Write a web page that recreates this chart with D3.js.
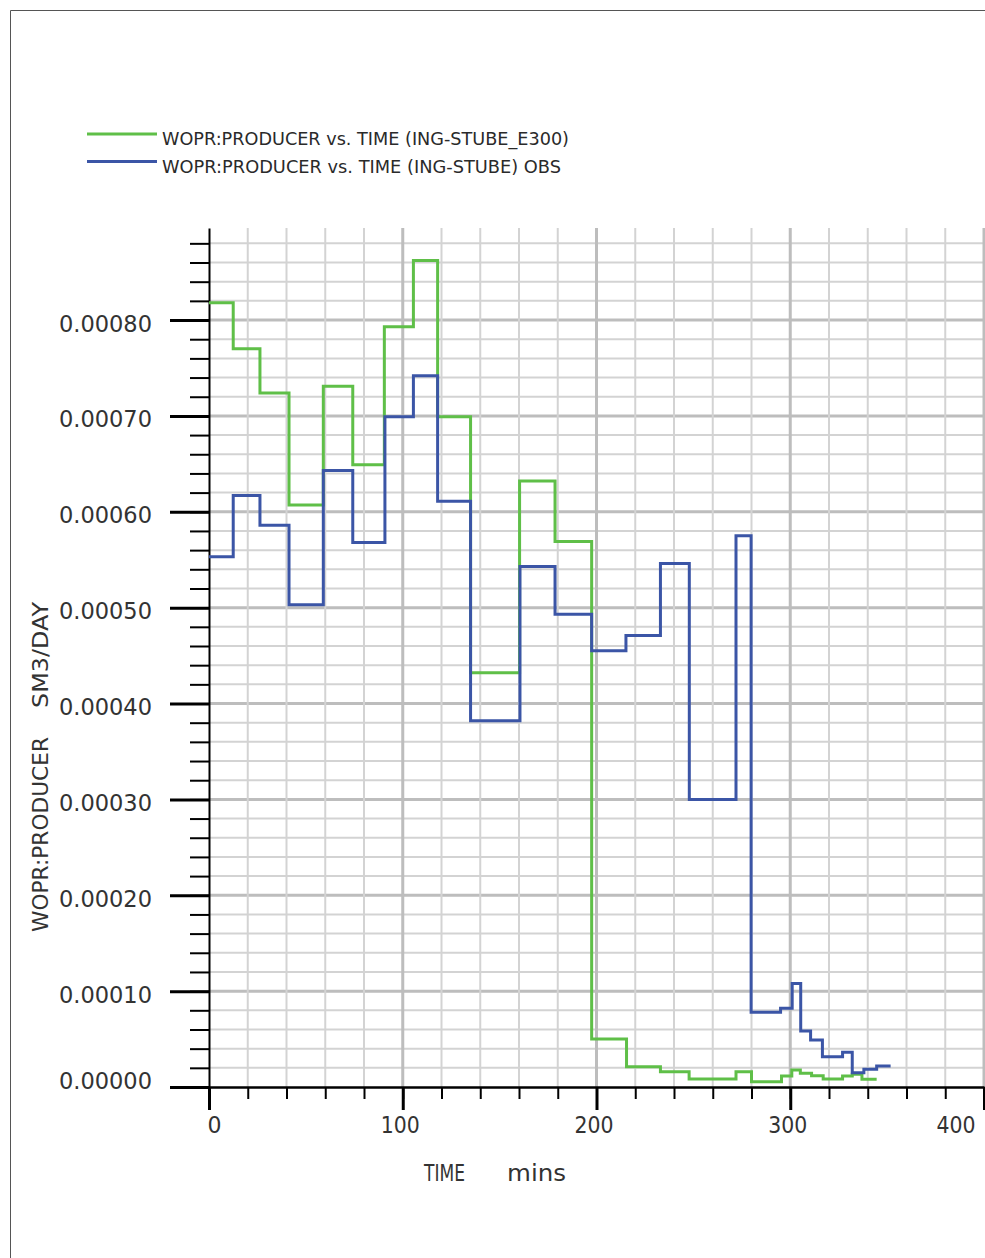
<!DOCTYPE html>
<html>
<head>
<meta charset="utf-8">
<script src="https://cdn.jsdelivr.net/npm/d3@7"></script>
<style>
  body { margin: 0; background: #fff; }
  text { font-family: "DejaVu Sans", sans-serif; }
</style>
</head>
<body>
<div id="chart"></div>
<script>
// step series: rate[i] holds from time[i] until time[i+1]; the last time is where the line stops
const simTime = [0, 12.5, 26.3, 41.3, 59, 74.2, 90.5, 105.5, 118, 135, 160.3, 178.6, 197.5,
                 215.5, 233, 247.8, 272, 280, 295.5, 300.8, 305.2, 311, 317, 327, 332, 337, 344.6];
const simRate = [0.000818, 0.000770, 0.000724, 0.000607, 0.000731, 0.000649, 0.000793, 0.000862,
                 0.000699, 0.000432, 0.000632, 0.000569, 0.0000501, 0.0000212, 0.0000160, 0.0000083,
                 0.0000160, 0.0000055, 0.0000115, 0.0000177, 0.0000143, 0.0000118, 0.0000083,
                 0.0000115, 0.0000132, 0.0000080];

const obsTime = [0, 12.5, 26.3, 41.3, 59, 74.2, 90.8, 105.5, 118, 135, 160.5, 178.6, 197.5,
                 215.2, 233, 247.9, 272, 279.8, 295, 301, 305.4, 310.5, 316.6, 327, 332, 338, 344.6, 351.8];
const obsRate = [0.000553, 0.000617, 0.000586, 0.000503, 0.000643, 0.000568, 0.000699, 0.000742,
                 0.000611, 0.000382, 0.000543, 0.000493, 0.000455, 0.000471, 0.000546, 0.000300,
                 0.000575, 0.0000779, 0.0000821, 0.000108, 0.0000584, 0.0000490, 0.0000316,
                 0.0000362, 0.0000149, 0.0000185, 0.0000219];

const xMajor = [0, 100, 200, 300, 400];
const xMinor = d3.range(0, 401, 20);
const yMajor = [0, 0.0001, 0.0002, 0.0003, 0.0004, 0.0005, 0.0006, 0.0007, 0.0008];
const yMinor = d3.range(0, 45).map(i => i * 0.00002);

const legendLabels = ["WOPR:PRODUCER vs. TIME (ING-STUBE_E300)", "WOPR:PRODUCER vs. TIME (ING-STUBE) OBS"];
const seriesColors = ["#5fbf48", "#3b55a6"];

const W = 985, H = 1258;
// plot box in pixels
const X0 = 209, X1 = 984, Y0 = 1087, YTOP = 228;

const svg = d3.select("#chart").append("svg")
  .attr("width", W).attr("height", H);

svg.append("rect").attr("width", W).attr("height", H).attr("fill", "#fff");

// outer frame (only top and left show)
svg.append("path")
  .attr("d", `M10.5,${H} V10.5 H${W}`)
  .attr("fill", "none").attr("stroke", "#555").attr("stroke-width", 1);

const x = d3.scaleLinear().domain([0, 400]).range([X0, X1]);
const y = d3.scaleLinear().domain([0, 0.000896]).range([Y0, YTOP]);

const isMajorY = v => yMajor.some(m => Math.abs(m - v) < 1e-9);

// grid
const grid = svg.append("g").attr("id", "grid");
grid.selectAll("line.h").data(yMinor.filter(v => v > 0)).join("line")
  .attr("class", "h")
  .attr("x1", X0).attr("x2", X1)
  .attr("y1", d => y(d)).attr("y2", d => y(d))
  .attr("stroke", d => isMajorY(d) ? "#bdbdbd" : "#d3d3d3")
  .attr("stroke-width", d => isMajorY(d) ? 3 : 2);
grid.selectAll("line.v").data(xMinor.filter(v => v > 0)).join("line")
  .attr("class", "v")
  .attr("y1", YTOP).attr("y2", Y0)
  .attr("x1", d => x(d)).attr("x2", d => x(d))
  .attr("stroke", d => d % 100 === 0 ? "#bdbdbd" : "#d3d3d3")
  .attr("stroke-width", d => d % 100 === 0 ? 3 : 2);

// axes
const yMinorAxis = d3.axisLeft(y).tickValues(yMinor).tickSize(19).tickSizeOuter(0).tickFormat("");
const yMajorAxis = d3.axisLeft(y).tickValues(yMajor).tickSize(39).tickSizeOuter(0).tickFormat(d3.format(".5f"));
const xMinorAxis = d3.axisBottom(x).tickValues(xMinor).tickSize(12).tickSizeOuter(0).tickFormat("");
const xMajorAxis = d3.axisBottom(x).tickValues(xMajor).tickSize(23).tickSizeOuter(0).tickFormat(d3.format("d"));

const gyMin = svg.append("g").attr("transform", `translate(${X0},0)`).call(yMinorAxis);
gyMin.selectAll("line").attr("stroke", "#000").attr("stroke-width", 2);
gyMin.select(".domain").attr("stroke", "#000").attr("stroke-width", 2);

const gyMaj = svg.append("g").attr("transform", `translate(${X0},0)`).call(yMajorAxis);
gyMaj.select(".domain").remove();
gyMaj.selectAll("line").attr("stroke", "#000").attr("stroke-width", 3);
gyMaj.selectAll("text")
  .attr("x", -57).attr("dy", null)
  .attr("y", d => d === 0 ? 1 : 11)
  .attr("text-anchor", "end")
  .attr("font-family", "DejaVu Sans")
  .attr("font-size", 22.5)
  .attr("fill", "#333");

const gxMin = svg.append("g").attr("transform", `translate(0,${Y0})`).call(xMinorAxis);
gxMin.selectAll("line").attr("stroke", "#000").attr("stroke-width", 2);
gxMin.select(".domain").attr("stroke", "#000").attr("stroke-width", 2.5);

const gxMaj = svg.append("g").attr("transform", `translate(0,${Y0})`).call(xMajorAxis);
gxMaj.select(".domain").remove();
gxMaj.selectAll("line").attr("stroke", "#000").attr("stroke-width", 3);
gxMaj.selectAll("text")
  .attr("dy", null).attr("y", 46)
  .attr("x", d => d === 0 ? -2 : d === 400 ? -9 : -3)
  .attr("text-anchor", d => d === 0 ? "start" : d === 400 ? "end" : "middle")
  .attr("font-family", "DejaVu Sans")
  .attr("font-size", 22.5)
  .attr("textLength", d => d === 0 ? 14 : 39)
  .attr("lengthAdjust", "spacingAndGlyphs")
  .attr("fill", "#333");

// axis titles
svg.append("text").attr("x", 424).attr("y", 1181)
  .attr("font-size", 23).attr("fill", "#333")
  .attr("textLength", 41).attr("lengthAdjust", "spacingAndGlyphs")
  .text("TIME");
svg.append("text").attr("x", 507).attr("y", 1181)
  .attr("font-size", 23).attr("fill", "#333")
  .attr("textLength", 59).attr("lengthAdjust", "spacingAndGlyphs")
  .text("mins");

svg.append("text").attr("transform", "translate(48,932) rotate(-90)")
  .attr("font-size", 22).attr("fill", "#333")
  .attr("textLength", 195).attr("lengthAdjust", "spacingAndGlyphs")
  .text("WOPR:PRODUCER");
svg.append("text").attr("transform", "translate(48,708) rotate(-90)")
  .attr("font-size", 22).attr("fill", "#333")
  .attr("textLength", 106).attr("lengthAdjust", "spacingAndGlyphs")
  .text("SM3/DAY");

// series
const line = d3.line()
  .x(d => x(d[0]))
  .y(d => y(d[1]))
  .curve(d3.curveStepAfter);

const toPoints = (times, rates) => times.map((t, i) => [t, rates[Math.min(i, rates.length - 1)]]);

const series = [toPoints(simTime, simRate), toPoints(obsTime, obsRate)];

svg.append("g").attr("id", "lines")
  .selectAll("path").data(series).join("path")
  .attr("d", line)
  .attr("fill", "none")
  .attr("stroke", (d, i) => seriesColors[i])
  .attr("stroke-width", 3)
  .attr("stroke-linejoin", "miter");

// legend
const legend = svg.append("g").attr("id", "legend");
const rows = legend.selectAll("g").data(legendLabels).join("g")
  .attr("transform", (d, i) => `translate(0, ${134 + i * 27.5})`);
rows.append("line")
  .attr("x1", 87).attr("x2", 157).attr("y1", 0).attr("y2", 0)
  .attr("stroke", (d, i) => seriesColors[i]).attr("stroke-width", 3);
rows.append("text")
  .attr("x", 162).attr("y", 11)
  .attr("font-family", "Liberation Sans, Arial, sans-serif")
  .attr("font-size", 18).attr("fill", "#2a2a2a")
  .attr("textLength", (d, i) => i === 0 ? 407 : 399)
  .attr("lengthAdjust", "spacingAndGlyphs")
  .text(d => d);
</script>
</body>
</html>
